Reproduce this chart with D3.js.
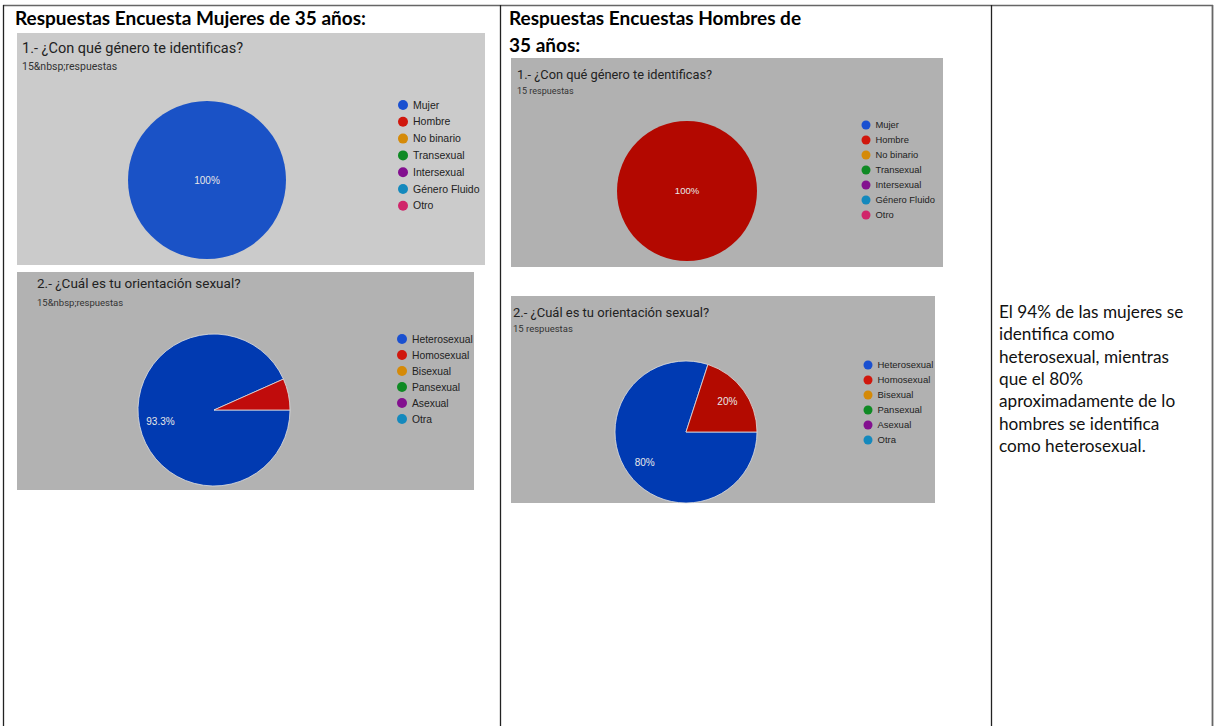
<!DOCTYPE html>
<html><head><meta charset="utf-8">
<script src="https://cdn.jsdelivr.net/npm/d3@7"></script>
<style>body{margin:0;background:#fff}svg{display:block}</style>
</head><body>
<svg id="c" width="1217" height="726"></svg>
<script>
// ---- data ----
const genderCategories = ["Mujer","Hombre","No binario","Transexual","Intersexual","Género Fluido","Otro"];
const womenGender = [15,0,0,0,0,0,0];
const menGender = [0,15,0,0,0,0,0];
const orientationCategories = ["Heterosexual","Homosexual","Bisexual","Pansexual","Asexual","Otra"];
const womenOrientation = [14,1,0,0,0,0];
const menOrientation = [12,3,0,0,0,0];
const headers = ["Respuestas Encuesta Mujeres de 35 años:", ["Respuestas Encuestas Hombres de","35 años:"]];
const questions = ["1.- ¿Con qué género te identificas?","2.- ¿Cuál es tu orientación sexual?"];
const respWomen = "15&nbsp;respuestas";
const respMen = "15 respuestas";
const conclusion = ["El 94% de las mujeres se","identifica como","heterosexual, mientras","que el 80%","aproximadamente de lo","hombres se identifica","como heterosexual."];

const legendColors = ["#1a50d0","#d0170d","#d58a08","#0f8a24","#83108f","#1489bd","#d0256a"];

const svg = d3.select("#c");

// table borders
const tbl = svg.append("g").attr("stroke","#444").attr("fill","none");
tbl.append("line").attr("x1",3).attr("x2",1213).attr("y1",5.5).attr("y2",5.5).attr("stroke-width",1.6).attr("stroke","#666");
[3.5,500.5,991.5,1212.5].forEach((x,i)=>{
  tbl.append("line").attr("x1",x).attr("x2",x).attr("y1",5).attr("y2",726).attr("stroke-width",i==3?1.8:1.3).attr("stroke",i==3?"#666":"#222");
});

// headers
svg.append("text").attr("x",15).attr("y",25).text(headers[0])
  .attr("font-family","Lato, Carlito, sans-serif").attr("font-weight","bold").attr("font-size",19).attr("fill","#000");
headers[1].forEach((t,i)=>svg.append("text").attr("x",509).attr("y",25+i*27).text(t)
  .attr("font-family","Lato, Carlito, sans-serif").attr("font-weight","bold").attr("font-size",19).attr("fill","#000"));

// conclusion text
conclusion.forEach((t,i)=>svg.append("text").attr("x",999).attr("y",318+i*22.3).text(t)
  .attr("font-family","Lato, Carlito, sans-serif").attr("font-size",17.2).attr("fill","#111"));

function panel(cfg){
  const g = svg.append("g");
  g.append("rect").attr("x",cfg.x).attr("y",cfg.y).attr("width",cfg.w).attr("height",cfg.h).attr("fill",cfg.bg);
  g.append("text").attr("x",cfg.x+cfg.tx).attr("y",cfg.y+cfg.ty).text(cfg.question)
    .attr("font-family","Roboto, sans-serif").attr("font-size",cfg.qs).attr("fill","#222");
  g.append("text").attr("x",cfg.x+cfg.tx).attr("y",cfg.y+cfg.ty+cfg.rdy).text(cfg.resp)
    .attr("font-family","Roboto, sans-serif").attr("font-size",cfg.rs).attr("fill","#333");
  const total = d3.sum(cfg.values);
  const pie = d3.pie().sort(null).value(d=>d).startAngle(Math.PI/2).endAngle(Math.PI/2+2*Math.PI);
  const arcs = pie(cfg.values);
  const arc = d3.arc().innerRadius(0).outerRadius(cfg.r);
  const labelArc = d3.arc().innerRadius(cfg.r*0.72).outerRadius(cfg.r*0.72);
  const pg = g.append("g").attr("transform",`translate(${cfg.cx},${cfg.cy})`);
  pg.selectAll("path").data(arcs.filter(d=>d.value>0)).join("path")
    .attr("d",arc).attr("fill",d=>cfg.pieColors[d.index])
    .attr("stroke",cfg.values.filter(v=>v>0).length>1?"#e0e0e0":"none").attr("stroke-width",0.8);
  pg.selectAll("text").data(arcs.filter(d=>d.value/total>0.1)).join("text")
    .attr("transform",d=>{
      if(d.value===total) return "translate(0,0)";
      const c = labelArc.centroid(d); return `translate(${c[0]},${c[1]})`;})
    .attr("text-anchor","middle").attr("dy","0.35em")
    .attr("font-family","Liberation Sans, Arial, sans-serif").attr("font-size",cfg.ls)
    .attr("fill","#e8e8e8")
    .text(d=>d3.format(".1~f")(d.value/total*100)+"%");
  const lg = g.append("g");
  const y = d3.scalePoint().domain(cfg.cats).range([cfg.ly0, cfg.ly0+cfg.lsp*(cfg.cats.length-1)]);
  lg.selectAll("circle").data(cfg.cats).join("circle")
    .attr("cx",cfg.lx).attr("cy",d=>y(d)).attr("r",cfg.cr).attr("fill",(d,i)=>legendColors[i]);
  lg.selectAll("text").data(cfg.cats).join("text")
    .attr("x",cfg.lx+cfg.cr+5).attr("y",d=>y(d)).attr("dy","0.35em").text(d=>d)
    .attr("font-family","Liberation Sans, Arial, sans-serif").attr("font-size",cfg.lfs).attr("fill","#222");
}

panel({x:17,y:33,w:468,h:232,bg:"#cbcbcb",tx:5,ty:20,rdy:17,qs:14.5,rs:10.5,question:questions[0],resp:respWomen,
  values:womenGender,cats:genderCategories,pieColors:["#1a52c6","#c01a10"],cx:207,cy:180,r:79,ls:10,
  lx:403,ly0:105,lsp:16.8,cr:5,lfs:10.5});
panel({x:17,y:272,w:457,h:218,bg:"#b2b2b2",tx:20,ty:16,rdy:18,qs:13.5,rs:9.5,question:questions[1],resp:respWomen,
  values:womenOrientation,cats:orientationCategories,pieColors:["#013ab1","#c00c0c"],cx:214,cy:410,r:76,ls:10,
  lx:402,ly0:339,lsp:16,cr:5,lfs:10.3});
panel({x:511,y:58,w:432,h:209,bg:"#b1b1b1",tx:6,ty:21,rdy:15,qs:12.8,rs:9,question:questions[0],resp:respMen,
  values:menGender,cats:genderCategories,pieColors:["#0b3ab0","#b30800"],cx:687,cy:191,r:70,ls:9.5,
  lx:866,ly0:125,lsp:15,cr:4.5,lfs:9.4});
panel({x:511,y:296,w:424,h:207,bg:"#b1b1b1",tx:2,ty:21,rdy:15,qs:13,rs:9.5,question:questions[1],resp:respMen,
  values:menOrientation,cats:orientationCategories,pieColors:["#003ab2","#b30a00"],cx:686,cy:432,r:71,ls:10,
  lx:868,ly0:365,lsp:15,cr:4.5,lfs:9.5});
</script>
</body></html>
